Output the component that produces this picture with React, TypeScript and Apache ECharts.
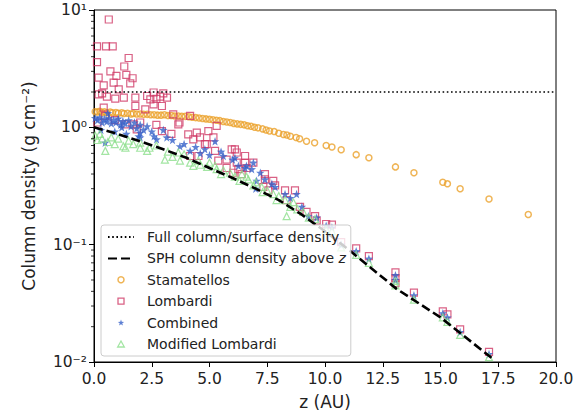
import React, { useEffect, useRef } from "react";
import * as echarts from "echarts";

// ---- data ----
const fullColumnZ = [0, 20];
const fullColumnValue = [2, 2];

const sphZ = [0, 1, 2, 3, 4, 5, 6, 7, 8, 9, 10, 11.2, 13.1, 15, 17.3];
const sphValue = [1.0, 0.88, 0.76, 0.65, 0.55, 0.45, 0.37, 0.30, 0.24, 0.18, 0.13, 0.085, 0.042, 0.024, 0.0105];

const stamatellos: [number, number][] = [
  [0.05, 1.36], [0.15, 1.35], [0.25, 1.37], [0.35, 1.34], [0.45, 1.36], [0.55, 1.33], [0.7, 1.35], [0.8, 1.33],
  [0.95, 1.34], [1.05, 1.32], [1.2, 1.33], [1.3, 1.31], [1.45, 1.32], [1.6, 1.30], [1.7, 1.31], [1.85, 1.30],
  [2.0, 1.30], [2.15, 1.29], [2.3, 1.29], [2.45, 1.28], [2.6, 1.28], [2.75, 1.27], [2.9, 1.27], [3.05, 1.28],
  [3.2, 1.26], [3.35, 1.26], [3.5, 1.25], [3.65, 1.25], [3.8, 1.24], [3.95, 1.24], [4.1, 1.23], [4.25, 1.22],
  [4.4, 1.21], [4.55, 1.20], [4.7, 1.19], [4.85, 1.18], [5.0, 1.17], [5.15, 1.16], [5.3, 1.15], [5.45, 1.14],
  [5.6, 1.12], [5.75, 1.11], [5.9, 1.10], [6.05, 1.08], [6.2, 1.07], [6.35, 1.06], [6.5, 1.05], [6.65, 1.03],
  [6.8, 1.02], [6.95, 1.00], [7.1, 0.99], [7.3, 0.97], [7.45, 0.95], [7.6, 0.93], [7.8, 0.92], [8.0, 0.89],
  [8.2, 0.87], [8.35, 0.86], [8.5, 0.84], [8.75, 0.82], [8.9, 0.80], [9.2, 0.76], [9.55, 0.74], [10.05, 0.70],
  [10.3, 0.68], [10.7, 0.645], [11.35, 0.585], [11.9, 0.55], [13.05, 0.46], [13.85, 0.41], [15.1, 0.34],
  [15.3, 0.33], [15.85, 0.30], [17.1, 0.245], [18.8, 0.181],
];

const lombardi: [number, number][] = [
  [0.64, 8.3], [0.13, 4.9], [0.52, 4.9], [0.81, 4.9], [0.13, 3.6], [1.5, 3.9], [1.31, 3.3], [0.71, 3.0],
  [1.4, 2.8], [0.2, 2.65], [0.97, 2.74], [1.67, 2.62], [0.85, 2.4], [0.42, 2.28], [1.57, 2.37], [1.07, 2.11],
  [0.2, 1.91], [0.56, 1.83], [0.92, 1.76], [1.29, 1.79], [0.35, 1.95], [2.58, 1.98], [2.87, 1.83], [2.44, 1.73],
  [3.16, 1.79], [1.79, 1.52], [2.58, 1.57], [2.94, 1.52], [2.22, 1.42], [0.42, 1.47], [2.3, 1.85], [3.0, 1.95],
  [2.7, 1.75], [1.79, 1.79], [0.48, 1.25], [1.36, 1.06], [1.72, 1.06], [2.0, 1.1], [2.94, 0.93], [3.65, 1.06],
  [1.85, 0.96], [3.43, 1.29], [4.16, 1.25], [4.08, 0.87], [4.45, 0.90], [4.59, 0.82], [4.3, 0.79], [4.88, 0.72],
  [4.95, 0.93], [5.31, 1.03], [5.17, 0.82], [4.8, 0.72], [5.24, 0.63], [5.96, 0.65], [6.18, 0.61], [4.16, 0.57],
  [5.74, 0.53], [6.18, 0.50], [6.54, 0.57], [6.9, 0.50], [7.4, 0.40], [6.6, 0.45], [6.25, 0.44], [6.03, 0.41],
  [6.39, 0.40], [5.74, 0.45], [5.38, 0.52], [4.52, 0.57], [6.1, 0.65], [6.54, 0.50], [7.4, 0.36], [7.76, 0.35],
  [7.84, 0.32], [7.33, 0.31], [7.55, 0.29], [8.27, 0.29], [8.7, 0.29], [8.34, 0.24], [8.92, 0.21], [9.2, 0.19],
  [9.57, 0.175], [9.64, 0.16], [0.15, 1.1], [0.9, 1.15], [3.7, 1.1], [3.35, 0.88], [2.7, 1.05],
  [10.05, 0.15], [10.3, 0.148], [10.7, 0.105], [11.35, 0.093], [11.9, 0.08], [13.05, 0.058], [13.05, 0.052],
  [13.05, 0.047], [13.85, 0.039], [15.1, 0.027], [15.3, 0.0255], [15.85, 0.019], [17.1, 0.0122],
];

const combined: [number, number][] = [
  [0.05, 1.2], [0.15, 1.15], [0.25, 1.22], [0.35, 1.1], [0.45, 1.18], [0.55, 1.12], [0.65, 1.2], [0.75, 1.08],
  [0.85, 1.16], [0.95, 1.1], [1.05, 1.19], [1.15, 1.05], [1.25, 1.13], [1.35, 1.08], [1.5, 1.15], [1.6, 1.02],
  [1.75, 1.1], [1.85, 0.98], [2.0, 1.05], [2.15, 0.95], [2.3, 1.02], [2.5, 0.92], [0.6, 1.32], [0.48, 0.74],
  [1.2, 1.0], [2.0, 0.90], [2.0, 0.82], [2.71, 0.79], [3.15, 0.82], [3.72, 0.69], [4.16, 0.63], [4.8, 0.65],
  [5.24, 0.76], [5.6, 0.57], [6.0, 0.53], [6.25, 0.47], [6.6, 0.47], [6.9, 0.5], [7.2, 0.41], [1.93, 0.84],
  [2.6, 0.84], [3.0, 0.95], [3.4, 0.78], [3.9, 0.72], [4.4, 0.68], [4.6, 0.6], [5.0, 0.58], [5.5, 0.62],
  [6.1, 0.55], [6.54, 0.45], [6.83, 0.44], [7.04, 0.35], [7.4, 0.36], [7.7, 0.33], [7.84, 0.31], [7.0, 0.30],
  [8.27, 0.27], [8.77, 0.27], [9.0, 0.21], [9.28, 0.175], [9.64, 0.17], [8.5, 0.25], [0.3, 0.95], [0.9, 0.92],
  [1.4, 0.88], [10.05, 0.145], [10.3, 0.14], [10.7, 0.1], [11.35, 0.088], [11.9, 0.076], [13.05, 0.055],
  [13.05, 0.05], [13.85, 0.037], [15.1, 0.026], [15.3, 0.024], [15.85, 0.018], [17.1, 0.0117],
];

const modifiedLombardi: [number, number][] = [
  [0.05, 0.85], [0.15, 0.78], [0.25, 0.88], [0.35, 0.8], [0.49, 0.63], [0.6, 0.75], [0.75, 0.82], [0.9, 0.72],
  [1.05, 0.8], [1.27, 0.69], [1.36, 0.67], [1.5, 0.77], [1.7, 0.72], [2.0, 0.74], [2.0, 0.67], [2.4, 0.67],
  [2.7, 0.7], [3.07, 0.53], [3.2, 0.62], [3.65, 0.61], [3.72, 0.52], [3.9, 0.59], [4.16, 0.50], [4.52, 0.52],
  [4.6, 0.48], [5.0, 0.5], [5.31, 0.44], [5.24, 0.47], [5.89, 0.41], [6.1, 0.38], [6.6, 0.38], [6.68, 0.36],
  [7.0, 0.34], [7.26, 0.31], [7.76, 0.27], [8.27, 0.24], [8.63, 0.23], [8.34, 0.175], [9.06, 0.19], [9.57, 0.165],
  [5.6, 0.43], [6.4, 0.4], [7.5, 0.29], [8.0, 0.26], [4.9, 0.46], [2.3, 0.63],
  [3.4, 0.56], [4.3, 0.47], [5.5, 0.40], [6.3, 0.35], [6.9, 0.32], [7.3, 0.28], [7.9, 0.24], [8.5, 0.21],
  [9.3, 0.17], [8.8, 0.2],
  [10.05, 0.135], [10.3, 0.13], [10.7, 0.095], [11.35, 0.082], [11.9, 0.07], [13.05, 0.049], [13.05, 0.045],
  [13.85, 0.034], [15.1, 0.024], [15.3, 0.022], [15.85, 0.017], [17.1, 0.011],
];

const yMinorTicks = [0.02, 0.03, 0.04, 0.05, 0.06, 0.07, 0.08, 0.09, 0.2, 0.3, 0.4, 0.5, 0.6, 0.7, 0.8, 0.9, 2, 3, 4, 5, 6, 7, 8, 9];

const COLORS = {
  stam: "#EBA12A",
  lomb: "#D03A66",
  comb: "#3560C8",
  mod: "#8CDF8C",
};

const SUP: Record<string, string> = {
  "-": "⁻", "0": "⁰", "1": "¹", "2": "²", "3": "³", "4": "⁴", "5": "⁵", "6": "⁶", "7": "⁷", "8": "⁸", "9": "⁹",
};

const STAR = "path://M0,-10 L2.35,-3.24 L9.51,-3.09 L3.8,1.24 L5.88,8.09 L0,4 L-5.88,8.09 L-3.8,1.24 L-9.51,-3.09 L-2.35,-3.24 Z";
const SQUARE = "path://M0,0 L10,0 L10,10 L0,10 Z";
const TRIANGLE = "path://M5,0 L10,9 L0,9 Z";

const FONT = "DejaVu Sans";

export default function App() {
  const ref = useRef<HTMLDivElement>(null);
  useEffect(() => {
    if (!ref.current) return;
    const chart = echarts.init(ref.current, undefined, { renderer: "svg" });
    const hidden = { color: "rgba(0,0,0,0)", borderWidth: 0, opacity: 0 };
    const option: any = {
      animation: false,
      backgroundColor: "#fff",
      textStyle: { fontFamily: FONT },
      grid: {
        left: 94, right: 31, top: 10, bottom: 58,
        show: true, borderColor: "#000", borderWidth: 1, backgroundColor: "transparent",
      },
      legend: {
        left: 101, top: 225, orient: "vertical",
        padding: [4, 5, 4, 6],
        itemGap: 5.4,
        itemWidth: 26, itemHeight: 6,
        backgroundColor: "rgba(255,255,255,0.8)",
        borderColor: "#cccccc", borderWidth: 1, borderRadius: 3,
        textStyle: {
          fontFamily: FONT, fontSize: 14, color: "#222", lineHeight: 16, padding: [0, 0, 0, 8],
          rich: { i: { fontFamily: FONT, fontSize: 14, fontStyle: "italic", color: "#222", lineHeight: 16 } },
        },
        formatter: (name: string) =>
          name === "SPH column density above z" ? "SPH column density above {i|z}" : name,
        data: [
          { name: "Full column/surface density", itemStyle: hidden },
          { name: "SPH column density above z", itemStyle: hidden },
          { name: "Stamatellos", icon: "circle", itemStyle: { color: "rgba(0,0,0,0)", borderColor: COLORS.stam, borderWidth: 1.5 } },
          { name: "Lombardi", icon: SQUARE, itemStyle: { color: "rgba(0,0,0,0)", borderColor: COLORS.lomb, borderWidth: 1.3 } },
          { name: "Combined", icon: STAR, itemStyle: { color: COLORS.comb } },
          { name: "Modified Lombardi", icon: TRIANGLE, itemStyle: { color: "rgba(0,0,0,0)", borderColor: COLORS.mod, borderWidth: 1.3 } },
        ],
      },
      xAxis: {
        type: "value", min: 0, max: 20, interval: 2.5,
        name: "z (AU)", nameLocation: "middle", nameGap: 31,
        nameTextStyle: { fontFamily: FONT, fontSize: 17, color: "#222" },
        axisLine: { show: true, lineStyle: { color: "#000", width: 1 } },
        axisTick: { show: true, length: 5, lineStyle: { color: "#000", width: 1 } },
        axisLabel: { fontFamily: FONT, fontSize: 15.5, color: "#222", margin: 9, formatter: (v: number) => v.toFixed(1) },
        splitLine: { show: false },
      },
      yAxis: {
        type: "log", logBase: 10, min: 0.01, max: 10,
        name: "Column density (g cm⁻²)", nameLocation: "middle", nameGap: 57, nameRotate: 90,
        nameTextStyle: { fontFamily: FONT, fontSize: 17, color: "#222" },
        axisLine: { show: true, lineStyle: { color: "#000", width: 1 } },
        axisTick: { show: true, length: 5, lineStyle: { color: "#000", width: 1 } },
        axisLabel: {
          fontFamily: FONT, fontSize: 15.5, color: "#222", margin: 7,
          formatter: (v: number) => {
            const e = String(Math.round(Math.log10(v)));
            return "10" + e.split("").map((c) => SUP[c] || c).join("");
          },
        },
        splitLine: { show: false },
        minorTick: { show: false },
      },
      series: [
        {
          name: "Stamatellos", type: "scatter", data: stamatellos, symbol: "circle", symbolSize: 6,
          itemStyle: { color: "rgba(0,0,0,0)", borderColor: COLORS.stam, borderWidth: 1.5 }, z: 2,
        },
        {
          name: "Lombardi", type: "scatter", data: lombardi, symbol: "rect", symbolSize: 7,
          itemStyle: { color: "rgba(0,0,0,0)", borderColor: COLORS.lomb, borderWidth: 1.2 }, z: 2,
        },
        {
          name: "Combined", type: "scatter", data: combined, symbol: STAR, symbolSize: 8.5,
          itemStyle: { color: COLORS.comb }, z: 2,
        },
        {
          name: "Modified Lombardi", type: "scatter", data: modifiedLombardi, symbol: "triangle", symbolSize: 7,
          itemStyle: { color: "rgba(0,0,0,0)", borderColor: COLORS.mod, borderWidth: 1.2 }, z: 2,
        },
        {
          name: "Full column/surface density", type: "line",
          data: fullColumnZ.map((z, i) => [z, fullColumnValue[i]]),
          symbol: "none", showSymbol: false, z: 3,
          lineStyle: { color: "#000", width: 1.6, type: [1.6, 2.6] },
          itemStyle: { color: "#000" },
        },
        {
          name: "SPH column density above z", type: "line",
          data: sphZ.map((z, i) => [z, sphValue[i]]),
          symbol: "none", showSymbol: false, z: 3,
          lineStyle: { color: "#000", width: 2.6, type: [9, 4] },
          itemStyle: { color: "#000" },
        },
        {
          name: "minorTicks", type: "custom", silent: true, clip: false, z: 5,
          data: yMinorTicks.map((v) => [0, v]),
          renderItem: (_params: any, api: any) => {
            const p = api.coord([0, api.value(1)]);
            return {
              type: "line",
              shape: { x1: p[0] - 3, y1: p[1], x2: p[0], y2: p[1] },
              style: { stroke: "#000", lineWidth: 0.8 },
            };
          },
        },
      ],
    };
    chart.setOption(option);
    return () => chart.dispose();
  }, []);
  return (
    <div
      ref={ref}
      style={{ position: "fixed", left: 0, top: 0, width: 587, height: 420, background: "#fff" }}
    />
  );
}
